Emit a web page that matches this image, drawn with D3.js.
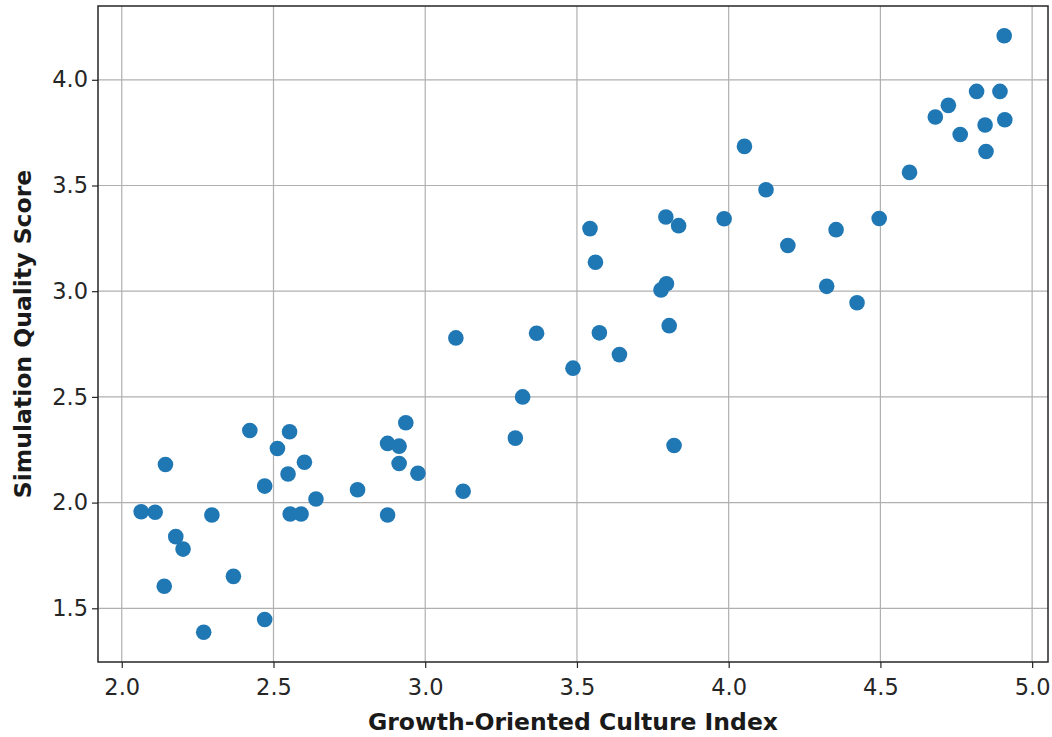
<!DOCTYPE html>
<html>
<head>
<meta charset="utf-8">
<script src="https://cdn.jsdelivr.net/npm/d3@7"></script>
<style>
  body { margin: 0; background: #fff; }
  svg { display: block; font-family: "DejaVu Sans", sans-serif; }
</style>
</head>
<body>
<div id="chart"></div>
<script>
// Data
const cultureIndex = [2.064, 2.110, 2.144, 2.140, 2.178, 2.202, 2.270, 2.297, 2.368, 2.422,
  2.471, 2.471, 2.513, 2.548, 2.553, 2.555, 2.591, 2.602, 2.640, 2.777,
  2.876, 2.876, 2.914, 2.914, 2.936, 2.976, 3.101, 3.125, 3.297, 3.321,
  3.367, 3.487, 3.543, 3.561, 3.574, 3.640, 3.777, 3.793, 3.795, 3.804,
  3.820, 3.835, 3.985, 4.052, 4.123, 4.195, 4.323, 4.354, 4.423, 4.496,
  4.596, 4.681, 4.724, 4.763, 4.817, 4.845, 4.848, 4.894, 4.908, 4.910];
const qualityScore = [1.957, 1.954, 2.180, 1.604, 1.839, 1.780, 1.387, 1.941, 1.651, 2.341,
  2.078, 1.447, 2.256, 2.135, 2.335, 1.946, 1.946, 2.191, 2.017, 2.061,
  2.280, 1.941, 2.267, 2.185, 2.378, 2.139, 2.779, 2.054, 2.305, 2.500,
  2.801, 2.636, 3.296, 3.137, 2.803, 2.700, 3.006, 3.351, 3.035, 2.837,
  2.270, 3.310, 3.343, 3.685, 3.480, 3.216, 3.023, 3.291, 2.945, 3.344,
  3.562, 3.824, 3.879, 3.741, 3.945, 3.786, 3.661, 3.945, 4.208, 3.811];
const xTicks = [2.0, 2.5, 3.0, 3.5, 4.0, 4.5, 5.0];
const yTicks = [1.5, 2.0, 2.5, 3.0, 3.5, 4.0];

const width = 1052, height = 737;
const margin = { top: 6, right: 4, bottom: 75, left: 98 };
const innerW = width - margin.left - margin.right;
const innerH = height - margin.top - margin.bottom;

const points = cultureIndex.map((x, i) => ({ x: x, y: qualityScore[i] }));

// Matplotlib-style 5% padding around the data
const xExt = d3.extent(cultureIndex), yExt = d3.extent(qualityScore);
const xPad = (xExt[1] - xExt[0]) * 0.05, yPad = (yExt[1] - yExt[0]) * 0.05;

const x = d3.scaleLinear().domain([xExt[0] - xPad, xExt[1] + xPad]).range([0, innerW]);
const y = d3.scaleLinear().domain([yExt[0] - yPad, yExt[1] + yPad]).range([innerH, 0]);

const svg = d3.select("#chart").append("svg")
    .attr("width", width)
    .attr("height", height);

const g = svg.append("g")
    .attr("transform", `translate(${margin.left},${margin.top})`);

// Grid lines
g.append("g").selectAll("line")
    .data(xTicks).enter().append("line")
    .attr("x1", d => x(d)).attr("x2", d => x(d))
    .attr("y1", 0).attr("y2", innerH)
    .attr("stroke", "#b0b0b0").attr("stroke-width", 1.2);

g.append("g").selectAll("line")
    .data(yTicks).enter().append("line")
    .attr("y1", d => y(d)).attr("y2", d => y(d))
    .attr("x1", 0).attr("x2", innerW)
    .attr("stroke", "#b0b0b0").attr("stroke-width", 1.2);

// Points
g.append("g").selectAll("circle")
    .data(points).enter().append("circle")
    .attr("cx", d => x(d.x))
    .attr("cy", d => y(d.y))
    .attr("r", 7.8)
    .attr("fill", "#1f77b4");

// Axes
const xAxis = g.append("g")
    .attr("transform", `translate(0,${innerH})`)
    .call(d3.axisBottom(x).tickValues(xTicks).tickFormat(d3.format(".1f")).tickSize(6).tickPadding(11));

const yAxis = g.append("g")
    .call(d3.axisLeft(y).tickValues(yTicks).tickFormat(d3.format(".1f")).tickSize(6).tickPadding(4));

[xAxis, yAxis].forEach(ax => {
    ax.select(".domain").remove();
    ax.selectAll("text").attr("font-size", 22.5).attr("fill", "#262626")
        .attr("font-family", "DejaVu Sans, sans-serif");
    ax.selectAll("line").attr("stroke", "#262626").attr("stroke-width", 1.2);
});

// Frame
g.append("rect")
    .attr("width", innerW).attr("height", innerH)
    .attr("fill", "none").attr("stroke", "#262626").attr("stroke-width", 1.5);

// Axis labels
svg.append("text")
    .attr("x", margin.left + innerW / 2)
    .attr("y", 730)
    .attr("text-anchor", "middle")
    .attr("font-size", 23.5).attr("font-weight", "bold").attr("fill", "#1a1a1a")
    .text("Growth-Oriented Culture Index");

svg.append("text")
    .attr("transform", `translate(31,${margin.top + innerH / 2}) rotate(-90)`)
    .attr("text-anchor", "middle")
    .attr("font-size", 23.5).attr("font-weight", "bold").attr("fill", "#1a1a1a")
    .text("Simulation Quality Score");
</script>
</body>
</html>
